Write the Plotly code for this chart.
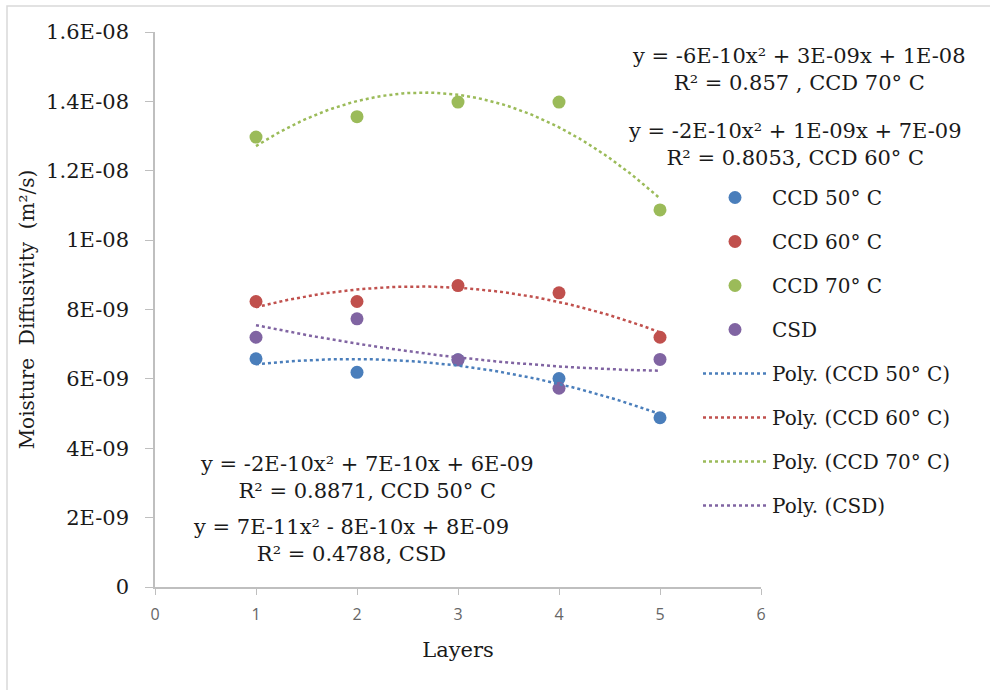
import numpy as np
import plotly.graph_objects as go

layers = [1, 2, 3, 4, 5]
ccd50 = [6.58e-9, 6.19e-9, 6.55e-9, 6.01e-9, 4.88e-9]
ccd60 = [8.23e-9, 8.23e-9, 8.69e-9, 8.48e-9, 7.20e-9]
ccd70 = [12.97e-9, 13.56e-9, 13.98e-9, 13.98e-9, 10.87e-9]
csd = [7.20e-9, 7.73e-9, 6.55e-9, 5.73e-9, 6.56e-9]

names = ["CCD 50° C", "CCD 60° C", "CCD 70° C", "CSD"]
colors = ["#4A7EBB", "#C0504D", "#9BBB59", "#8064A2"]
series = [ccd50, ccd60, ccd70, csd]

y_ticks = [0, 2e-9, 4e-9, 6e-9, 8e-9, 1e-8, 1.2e-8, 1.4e-8, 1.6e-8]
y_tick_labels = ["0", "2E-09", "4E-09", "6E-09", "8E-09", "1E-08", "1.2E-08", "1.4E-08", "1.6E-08"]

eq_texts = [
    ("y = -6E-10x² + 3E-09x + 1E-08<br>R² = 0.857 , CCD 70° C", 799, 70),
    ("y = -2E-10x² + 1E-09x + 7E-09<br>R² = 0.8053, CCD 60° C", 795, 144),
    ("y = -2E-10x² + 7E-10x + 6E-09<br>R² = 0.8871, CCD 50° C", 367, 477),
    ("y = 7E-11x² - 8E-10x + 8E-09<br>R² = 0.4788, CSD", 351, 540),
]

L, R, T, B = 155, 761, 32, 587
W, H = 990, 690

fig = go.Figure()
serif = "DejaVu Serif"

for i, (nm, col, ys) in enumerate(zip(names, colors, series)):
    fig.add_trace(go.Scatter(
        x=layers, y=ys, mode="markers", name=nm,
        marker=dict(color=col, size=13),
        legendgroup="g%d" % i,
    ))

xs = np.linspace(1, 5, 81)
for i, (nm, col, ys) in enumerate(zip(names, colors, series)):
    coef = np.polyfit(layers, ys, 2)
    fig.add_trace(go.Scatter(
        x=xs, y=np.polyval(coef, xs), mode="lines", name="Poly. (%s)" % nm,
        line=dict(color=col, width=2.5, dash="dot"),
        legendgroup="p%d" % i,
    ))

def px_x(p):
    return (p - L) / (R - L)

def px_y(p):
    return (B - p) / (B - T)

for txt, cx, cy in eq_texts:
    fig.add_annotation(
        text=txt, x=px_x(cx), y=px_y(cy), xref="paper", yref="paper",
        showarrow=False, xanchor="center", yanchor="middle", align="center",
        font=dict(family=serif, size=21, color="#1a1a1a"),
    )

fig.add_shape(type="rect", xref="paper", yref="paper",
              x0=px_x(7), x1=px_x(1000), y0=px_y(700), y1=px_y(6),
              line=dict(color="#D9D9D9", width=1.5), fillcolor="rgba(0,0,0,0)", layer="below")

fig.update_layout(
    width=W, height=H,
    margin=dict(l=L, r=W - R, t=T, b=H - B),
    paper_bgcolor="white", plot_bgcolor="white",
    showlegend=True,
    legend=dict(
        x=px_x(698), y=px_y(178), xanchor="left", yanchor="top",
        font=dict(family=serif, size=20, color="#1a1a1a"),
        bgcolor="rgba(0,0,0,0)", tracegroupgap=15, traceorder="grouped",
        itemwidth=64,
    ),
    xaxis=dict(
        range=[0, 6], tickvals=[0, 1, 2, 3, 4, 5, 6], showgrid=False, zeroline=False,
        showline=True, linecolor="#BFBFBF", linewidth=1.5,
        ticks="outside", ticklen=6, tickcolor="#BFBFBF",
        tickfont=dict(family="Open Sans", size=16, color="#666666"),
        ticklabelstandoff=6,
        title=dict(text="Layers", font=dict(family=serif, size=21, color="#1a1a1a"), standoff=18),
    ),
    yaxis=dict(
        range=[0, 1.6e-8], tickvals=y_ticks, ticktext=y_tick_labels, showgrid=False, zeroline=False,
        showline=True, linecolor="#BFBFBF", linewidth=1.5,
        ticks="outside", ticklen=8, tickcolor="#BFBFBF",
        tickfont=dict(family=serif, size=21, color="#1a1a1a"),
        ticklabelstandoff=12,
        title=dict(text="Moisture  Diffusivity  (m²/s)", font=dict(family=serif, size=20, color="#1a1a1a"), standoff=6),
    ),
)

fig.write_html("out.html")
